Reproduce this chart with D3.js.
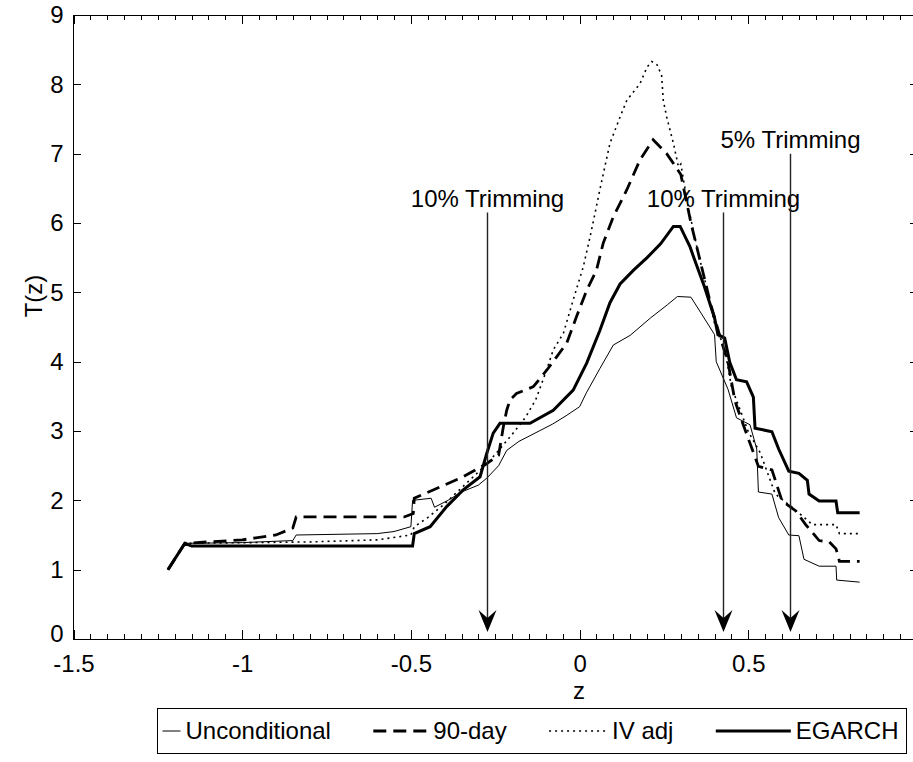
<!DOCTYPE html>
<html>
<head>
<meta charset="utf-8">
<script src="https://cdn.jsdelivr.net/npm/d3@7"></script>
<style>
  body { margin: 0; background: #fff; }
  text { font-family: "Liberation Sans", Arial, sans-serif; font-size: 24px; fill: #000; }
</style>
</head>
<body>
<div id="wrapper"></div>
<script>
// series names (legend order)
const seriesNames = ["Unconditional", "90-day", "IV adj", "EGARCH"];

// [z, T(z)]
const unconditional = [
  [-1.22, 1.0], [-1.17, 1.38], [-1.0, 1.39], [-0.85, 1.42], [-0.84, 1.5], [-0.6, 1.52], [-0.55, 1.55],
  [-0.5, 1.62], [-0.495, 2.0], [-0.44, 2.03], [-0.43, 1.9], [-0.39, 2.0], [-0.35, 2.12], [-0.3, 2.22],
  [-0.275, 2.32], [-0.24, 2.5], [-0.216, 2.72], [-0.18, 2.85], [-0.12, 3.0], [-0.08, 3.1], [-0.04, 3.22],
  [0.0, 3.35], [0.02, 3.55], [0.06, 3.9], [0.10, 4.24], [0.15, 4.38], [0.21, 4.63], [0.26, 4.82],
  [0.29, 4.94], [0.33, 4.93], [0.36, 4.70], [0.40, 4.39], [0.405, 4.0], [0.44, 3.6],
  [0.465, 3.19], [0.505, 3.09], [0.525, 2.74], [0.53, 2.12], [0.57, 2.09], [0.59, 1.75], [0.62, 1.5],
  [0.65, 1.49], [0.665, 1.15], [0.71, 1.05], [0.76, 1.05], [0.762, 0.85], [0.83, 0.82]
];

const day90 = [
  [-1.22, 1.0], [-1.17, 1.38], [-1.0, 1.43], [-0.9, 1.5], [-0.85, 1.6], [-0.84, 1.76], [-0.52, 1.76],
  [-0.493, 1.81], [-0.49, 2.03], [-0.434, 2.15], [-0.345, 2.34], [-0.275, 2.53], [-0.24, 2.65],
  [-0.226, 3.06], [-0.216, 3.3], [-0.206, 3.45], [-0.187, 3.54], [-0.137, 3.64], [-0.097, 3.88],
  [-0.068, 4.07], [-0.038, 4.27], [-0.009, 4.65], [0.021, 5.03], [0.05, 5.32], [0.07, 5.71], [0.10, 6.09],
  [0.14, 6.48], [0.179, 6.91], [0.218, 7.20], [0.258, 7.0], [0.278, 6.86], [0.30, 6.7], [0.33, 6.0],
  [0.36, 5.4], [0.39, 4.8], [0.42, 4.3], [0.44, 3.99], [0.46, 3.44], [0.485, 3.09], [0.53, 2.49],
  [0.57, 2.44], [0.60, 1.99], [0.64, 1.85], [0.67, 1.65], [0.71, 1.42], [0.74, 1.40], [0.76, 1.30],
  [0.77, 1.12], [0.83, 1.12]
];

const ivAdj = [
  [-1.22, 1.0], [-1.17, 1.38], [-0.8, 1.4], [-0.6, 1.43], [-0.5, 1.5], [-0.49, 1.62], [-0.45, 1.75],
  [-0.4, 1.95], [-0.315, 2.34], [-0.27, 2.55], [-0.2, 2.95], [-0.16, 3.2], [-0.13, 3.45],
  [-0.1, 3.85], [-0.078, 4.17], [-0.048, 4.41], [-0.019, 4.89], [0.011, 5.37], [0.031, 5.80],
  [0.05, 6.24], [0.06, 6.48], [0.09, 7.15], [0.12, 7.53], [0.14, 7.77], [0.179, 8.01], [0.2, 8.25],
  [0.214, 8.33], [0.23, 8.28], [0.243, 8.13], [0.248, 7.77], [0.258, 7.53], [0.278, 7.15], [0.293, 6.81],
  [0.30, 6.85], [0.32, 6.28],
  [0.35, 5.6], [0.38, 5.0], [0.40, 4.55], [0.43, 4.19], [0.45, 3.64], [0.50, 2.99], [0.535, 2.69],
  [0.58, 2.09], [0.63, 1.9], [0.69, 1.65], [0.76, 1.65], [0.77, 1.52], [0.83, 1.52]
];

const egarch = [
  [-1.22, 1.0], [-1.17, 1.38], [-1.15, 1.34], [-0.495, 1.34], [-0.49, 1.52], [-0.443, 1.62],
  [-0.394, 1.91], [-0.345, 2.15], [-0.295, 2.34], [-0.275, 2.68], [-0.256, 2.97], [-0.236, 3.11],
  [-0.147, 3.11], [-0.078, 3.30], [-0.019, 3.59], [0.021, 3.98], [0.06, 4.45], [0.09, 4.85],
  [0.12, 5.12], [0.16, 5.32], [0.2, 5.5], [0.24, 5.7], [0.278, 5.95], [0.298, 5.95], [0.327, 5.66], [0.34, 5.48],
  [0.37, 5.08], [0.40, 4.63], [0.41, 4.39], [0.43, 4.34], [0.445, 3.99], [0.465, 3.74], [0.495, 3.71],
  [0.515, 3.49], [0.52, 3.04], [0.57, 2.99], [0.59, 2.74], [0.62, 2.42], [0.65, 2.39], [0.675, 2.29],
  [0.68, 2.09], [0.71, 1.99], [0.76, 1.99], [0.765, 1.82], [0.83, 1.82]
];

// trimming arrows
const arrowZ = [-0.275, 0.425, 0.625];
const arrowTop = [6.15, 6.15, 7.0];
const arrowLabels = ["10% Trimming", "10% Trimming", "5% Trimming"];

// ticks
const xTicks = [-1.5, -1, -0.5, 0, 0.5];
const yTicks = [0, 1, 2, 3, 4, 5, 6, 7, 8, 9];

const dimension = {
  width: 913,
  height: 762,
  left: 73.5,
  right: 917,
  top: 15,
  bottom: 639
};

const svg = d3.select("#wrapper").append("svg")
  .attr("width", dimension.width)
  .attr("height", dimension.height);

const xScaler = d3.scaleLinear().domain([-1.5, 1]).range([dimension.left, dimension.right]);
const yScaler = d3.scaleLinear().domain([0, 9]).range([dimension.bottom, dimension.top]);

svg.append("clipPath").attr("id", "plotclip")
  .append("rect")
  .attr("x", dimension.left).attr("y", dimension.top)
  .attr("width", dimension.right - dimension.left)
  .attr("height", dimension.bottom - dimension.top);

// axes: ticks point inward like matlab
const minorX = d3.range(-1.5, 1.0001, 0.05);

function tidy(g) {
  g.select(".domain").remove();
  g.selectAll("line").attr("stroke", "#000").attr("shape-rendering", "crispEdges");
}

svg.append("g")
  .attr("transform", `translate(0,${dimension.bottom})`)
  .call(d3.axisBottom(xScaler).tickValues(minorX).tickSize(-5).tickFormat(""))
  .call(tidy);
svg.append("g")
  .attr("transform", `translate(0,${dimension.bottom})`)
  .call(d3.axisBottom(xScaler).tickValues(xTicks).tickSizeInner(-9).tickSizeOuter(0)
    .tickPadding(16).tickFormat(d => String(d)))
  .call(tidy);
svg.append("g")
  .attr("transform", `translate(0,${dimension.top})`)
  .call(d3.axisTop(xScaler).tickValues(minorX).tickSize(-5).tickFormat(""))
  .call(tidy);
svg.append("g")
  .attr("transform", `translate(0,${dimension.top})`)
  .call(d3.axisTop(xScaler).tickValues(xTicks).tickSize(-9).tickFormat(""))
  .call(tidy);
svg.append("g")
  .attr("transform", `translate(${dimension.left},0)`)
  .call(d3.axisLeft(yScaler).tickValues(yTicks).tickSizeInner(-7).tickSizeOuter(0).tickPadding(10))
  .call(tidy)
  .call(g => g.selectAll(".tick text").filter(d => d === 0).attr("dy", "0.1em"));
svg.append("g")
  .attr("transform", `translate(${dimension.right},0)`)
  .call(d3.axisRight(yScaler).tickValues(yTicks).tickSize(-7).tickFormat(""))
  .call(tidy);

svg.append("rect")
  .attr("x", dimension.left).attr("y", dimension.top)
  .attr("width", dimension.right - dimension.left)
  .attr("height", dimension.bottom - dimension.top)
  .attr("fill", "none").attr("stroke", "#000")
  .attr("shape-rendering", "crispEdges");

// curves
const lineGen = d3.line()
  .x(d => xScaler(d[0]))
  .y(d => yScaler(d[1]));

const styles = [
  { width: 1, dash: null },
  { width: 2.8, dash: "13,7" },
  { width: 1.6, dash: "2,4" },
  { width: 3, dash: null }
];
const allSeries = [unconditional, day90, ivAdj, egarch];

const curves = svg.append("g").attr("clip-path", "url(#plotclip)");
allSeries.forEach((s, i) => {
  curves.append("path")
    .attr("d", lineGen(s))
    .attr("fill", "none")
    .attr("stroke", "#000")
    .attr("stroke-width", styles[i].width)
    .attr("stroke-dasharray", styles[i].dash)
    .attr("stroke-linejoin", "miter");
});

// trimming arrows
const arrows = svg.append("g");
arrowZ.forEach((z, i) => {
  const ax = Math.round(xScaler(z)) + 0.5;
  const top = yScaler(arrowTop[i]);
  const tip = yScaler(0.1);
  arrows.append("line")
    .attr("x1", ax).attr("x2", ax)
    .attr("y1", top).attr("y2", tip - 6)
    .attr("stroke", "#222").attr("stroke-width", 1.4);
  arrows.append("path")
    .attr("d", `M${ax},${tip} L${ax - 9},${tip - 22} L${ax},${tip - 14} L${ax + 9},${tip - 22} Z`)
    .attr("fill", "#000");
  arrows.append("text")
    .attr("x", ax).attr("y", top - 6)
    .attr("text-anchor", "middle")
    .text(arrowLabels[i]);
});

// axis labels
svg.append("text")
  .attr("x", 579).attr("y", 699)
  .attr("text-anchor", "middle")
  .text("z");
svg.append("text")
  .attr("transform", "translate(42,296) rotate(-90)")
  .attr("text-anchor", "middle")
  .text("T(z)");

// legend: entries laid out left to right, spread to fill the box
const legendBox = { x: 157.5, y: 708.5, w: 749, h: 45 };
const sampleLen = [18, 55, 58, 75];
const legend = svg.append("g");
legend.append("rect")
  .attr("x", legendBox.x).attr("y", legendBox.y)
  .attr("width", legendBox.w).attr("height", legendBox.h)
  .attr("fill", "#fff").attr("stroke", "#000");
const cy = legendBox.y + legendBox.h / 2;
const labels = seriesNames.map(name => legend.append("text")
  .attr("y", cy).attr("dy", "0.35em").text(name));
const textW = labels.map(t => t.node().getComputedTextLength());
const used = d3.sum(textW) + d3.sum(sampleLen) + 4 * 5;
const startX = legendBox.x + 5;
const endX = legendBox.x + legendBox.w - 8;
const gap = (endX - startX - used) / 3;
let cx = startX;
seriesNames.forEach((name, i) => {
  legend.append("line")
    .attr("x1", cx).attr("x2", cx + sampleLen[i])
    .attr("y1", cy).attr("y2", cy)
    .attr("stroke", "#000")
    .attr("stroke-width", styles[i].width)
    .attr("stroke-dasharray", styles[i].dash);
  cx += sampleLen[i] + 5;
  labels[i].attr("x", cx);
  cx += textW[i] + gap;
});
</script>
</body>
</html>
